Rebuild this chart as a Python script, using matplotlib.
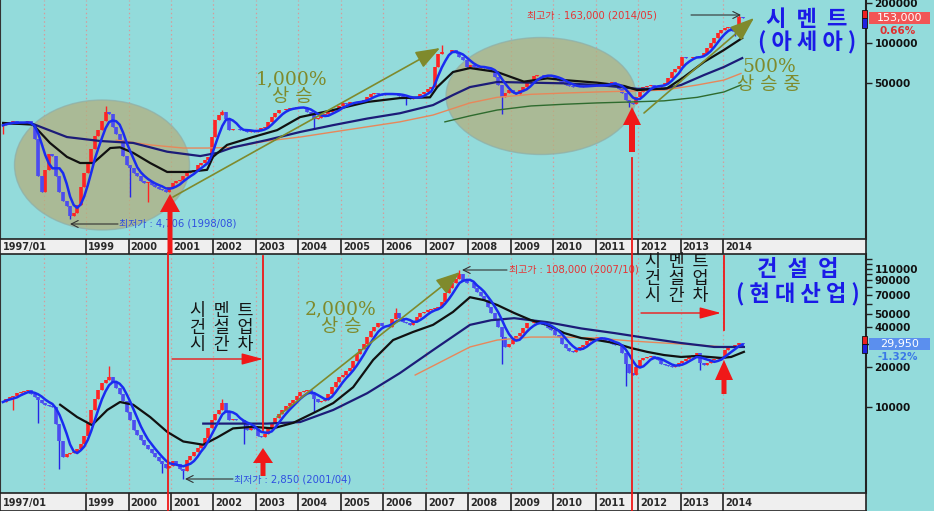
import numpy as np
import pandas as pd
import matplotlib
matplotlib.use("Agg")
import matplotlib.pyplot as plt
from matplotlib.patches import Ellipse, Polygon, Rectangle
from matplotlib.ticker import FixedLocator, FixedFormatter, NullLocator

plt.rcParams['font.family'] = ['Noto Sans CJK KR', 'DejaVu Sans']

# ---------------- data (monthly closes, thousand won, 1997/01 .. 2014/06) ----------------
cement_close_k = [
    24.0, 25.0, 25.5, 26.0, 25.0, 24.5, 25.0, 26.0, 24.0, 19.0, 10.0, 7.5,      # 1997
    11.0, 14.5, 14.0, 10.0, 7.5, 6.5, 5.9, 5.0, 5.3, 6.0, 8.3, 10.5,            # 1998
    12.5, 16.0, 20.0, 22.0, 26.0, 30.0, 29.0, 23.5, 20.5, 18.5, 14.0, 12.0,     # 1999
    11.5, 10.5, 9.9, 9.2, 8.8, 9.0, 8.6, 8.3, 8.0, 7.8, 7.6, 8.3,               # 2000
    8.8, 9.1, 9.3, 9.9, 10.5, 10.9, 11.1, 12.0, 12.5, 13.2, 13.9, 19.5,         # 2001
    26.3, 28.7, 30.3, 27.0, 22.0, 22.5, 22.5, 22.0, 22.0, 21.5, 22.0, 21.4,     # 2002
    22.0, 23.0, 23.4, 25.5, 27.7, 29.5, 31.3, 31.5, 32.0, 32.5, 32.5, 33.0,     # 2003
    33.0, 32.5, 30.5, 29.0, 27.0, 27.5, 28.5, 29.0, 30.0, 31.3, 32.0, 33.5,     # 2004
    35.4, 35.0, 35.8, 36.2, 36.0, 36.8, 37.2, 39.0, 41.5, 42.0, 41.5, 40.6,     # 2005
    41.0, 41.5, 42.0, 41.0, 40.0, 39.3, 38.5, 38.0, 38.5, 39.5, 41.0, 43.0,     # 2006
    45.0, 47.0, 66.0, 82.0, 86.0, 85.0, 86.0, 88.0, 84.0, 78.0, 74.0, 66.0,     # 2007
    68.0, 66.0, 65.0, 66.0, 65.0, 64.0, 62.0, 55.5, 48.0, 39.0, 42.0, 44.0,     # 2008
    42.0, 41.0, 44.0, 47.0, 50.0, 53.0, 56.0, 57.4, 57.0, 56.5, 57.0, 56.0,     # 2009
    54.0, 52.0, 50.0, 48.0, 47.5, 47.0, 46.5, 47.0, 47.5, 48.0, 48.0, 47.5,     # 2010
    48.0, 48.0, 48.5, 49.5, 51.0, 49.0, 45.0, 42.0, 37.0, 35.5, 35.0, 39.0,     # 2011
    43.0, 46.6, 47.5, 48.0, 47.0, 46.6, 48.5, 50.0, 55.0, 60.0, 64.0, 67.0,     # 2012
    78.0, 77.5, 77.0, 78.0, 78.5, 80.0, 84.0, 92.0, 100.0, 110.0, 119.0, 126.0, # 2013
    130.0, 133.0, 124.0, 121.0, 158.0, 153.0,                                   # 2014
]
const_close_k = [
    10.9, 11.5, 11.8, 12.2, 12.7, 13.0, 13.2, 13.4, 12.5, 11.8, 11.3, 10.8,     # 1997
    10.4, 10.2, 10.0, 7.5, 5.5, 4.2, 4.4, 4.5, 4.6, 4.8, 5.3, 6.0,              # 1998
    7.6, 9.5, 11.5, 13.5, 15.1, 16.0, 16.8, 15.5, 14.0, 12.5, 11.0, 9.2,        # 1999
    8.0, 6.7, 6.2, 5.6, 5.2, 4.8, 4.5, 4.2, 3.9, 3.7, 3.5, 3.6,                 # 2000
    3.9, 3.7, 3.4, 3.3, 4.0, 4.3, 4.6, 4.9, 5.3, 5.8, 7.0, 8.0,                 # 2001
    8.8, 9.5, 10.7, 9.2, 8.0, 8.1, 8.0, 8.0, 7.4, 6.7, 7.1, 6.8,                # 2002
    6.0, 5.9, 6.3, 7.0, 7.6, 8.3, 8.9, 9.5, 10.2, 10.8, 11.3, 12.2,             # 2003
    13.0, 13.2, 13.4, 12.5, 11.5, 10.9, 11.1, 11.3, 12.5, 14.1, 15.5, 16.8,     # 2004
    17.5, 18.5, 19.5, 22.0, 25.0, 27.5, 30.0, 33.6, 37.0, 40.0, 42.8, 41.0,     # 2005
    40.5, 40.0, 46.0, 51.0, 47.0, 43.5, 42.5, 41.5, 44.0, 47.5, 51.0, 52.0,     # 2006
    53.6, 54.5, 55.5, 56.6, 62.0, 72.0, 78.0, 85.6, 92.0, 101.0, 88.0, 86.0,    # 2007
    85.6, 78.0, 73.0, 68.0, 63.7, 57.0, 51.0, 45.0, 40.0, 33.6, 28.3, 30.0,     # 2008
    31.9, 34.0, 36.0, 39.0, 42.8, 43.2, 43.5, 43.0, 42.0, 41.5, 39.5, 38.0,     # 2009
    35.0, 33.6, 30.0, 27.8, 26.5, 26.0, 27.0, 28.3, 29.5, 31.5, 33.0, 33.3,     # 2010
    33.6, 32.5, 31.5, 30.8, 30.0, 29.5, 29.3, 25.5, 21.0, 18.0, 17.4, 20.0,     # 2011
    22.6, 23.2, 23.8, 24.0, 23.4, 22.5, 21.0, 20.7, 20.3, 20.0, 20.5, 21.4,     # 2012
    22.0, 23.0, 23.8, 24.5, 25.5, 21.5, 20.7, 21.5, 22.6, 23.0, 23.2, 23.4,     # 2013
    27.0, 28.3, 29.0, 29.3, 30.3, 29.95,                                        # 2014
]
# notable wick extremes: (month index, value in won)
cement_wick_high = [(29, 33600), (62, 31500), (124, 96000), (208, 163000)]
cement_wick_low = [(0, 20700), (19, 4706), (36, 6900), (41, 6400), (88, 22500), (114, 34000),
                   (141, 29000), (177, 33000), (207, 112000)]
const_wick_high = [(30, 20500), (62, 11500), (111, 56000), (129, 108000)]
const_wick_low = [(3, 9500), (10, 7600), (16, 3400), (45, 3200), (51, 2850), (68, 5300), (88, 9100),
                  (141, 21000), (176, 14500), (197, 19000)]

# moving-average lines (year, thousand won)
c_black_x = [1997.05, 1997.75, 1998.15, 1998.55, 1998.86, 1999.17, 1999.57, 1999.80, 2000.11, 2000.51,
             2000.91, 2001.38, 2001.85, 2001.99, 2002.32, 2002.93, 2003.50, 2004.04, 2004.82, 2005.62,
             2006.39, 2007.10, 2007.27, 2007.64, 2008.04, 2008.68, 2009.31, 2009.86, 2010.26, 2011.03,
             2011.67, 2011.98, 2012.68, 2013.08, 2013.55, 2014.02, 2014.45]
c_black_y = [25.0, 24.3, 17.7, 13.9, 12.5, 12.5, 16.2, 16.4, 14.9, 12.5,
             10.7, 10.7, 11.1, 13.9, 17.1, 19.6, 22.1, 27.7, 31.3, 36.0,
             38.5, 39.0, 46.6, 60.5, 64.8, 60.5, 51.2, 54.2, 52.6, 50.3,
             47.5, 44.2, 45.6, 55.5, 72.0, 88.6, 109.0]
c_navy_x = [1997.05, 1997.75, 1998.55, 1999.33, 2000.11, 2000.91, 2001.69, 2002.09, 2002.46, 2003.26,
            2004.04, 2004.82, 2005.62, 2006.39, 2007.17, 2007.64, 2008.04, 2008.68, 2009.48, 2010.26,
            2011.03, 2011.67, 2011.98, 2012.61, 2013.01, 2013.55, 2014.02, 2014.45]
c_navy_y = [25.0, 24.6, 19.6, 18.3, 17.7, 15.2, 14.1, 14.9, 16.4, 18.6,
            21.4, 24.1, 27.0, 29.6, 34.1, 40.6, 46.6, 50.9, 50.3, 49.7,
            48.3, 46.3, 45.2, 45.2, 48.3, 57.4, 66.0, 77.0]
c_orange_x = [1999.71, 2000.51, 2001.29, 2001.85, 2002.46, 2003.26, 2004.04, 2004.82, 2005.62, 2006.39,
              2007.17, 2008.04, 2008.68, 2009.48, 2010.26, 2011.03, 2011.83, 2012.61, 2013.39, 2014.02, 2014.42]
c_orange_y = [18.6, 17.1, 16.2, 16.2, 16.4, 18.3, 19.6, 21.4, 23.4, 25.5,
              28.7, 35.4, 39.0, 41.1, 42.0, 42.8, 43.5, 44.2, 48.3, 52.6, 59.0]
c_green_x = [2007.45, 2008.04, 2008.68, 2009.48, 2010.26, 2011.03, 2011.83, 2012.61, 2013.39, 2014.02, 2014.42]
c_green_y = [25.5, 28.3, 31.3, 33.6, 34.6, 35.4, 36.0, 36.7, 39.0, 42.8, 48.3]

k_black_x = [1998.39, 1998.79, 1999.14, 1999.50, 1999.80, 2000.11, 2000.51, 2000.91, 2001.29, 2001.76,
             2002.09, 2002.46, 2002.93, 2003.40, 2003.88, 2004.35, 2004.82, 2005.29, 2005.76, 2006.23,
             2006.70, 2007.17, 2007.64, 2008.04, 2008.37, 2008.68, 2009.08, 2009.48, 2009.86, 2010.26,
             2010.66, 2011.03, 2011.44, 2011.83, 2012.21, 2012.61, 2013.01, 2013.39, 2013.95, 2014.19, 2014.49]
k_black_y = [10.4, 8.4, 7.3, 9.5, 10.9, 10.4, 8.4, 6.5, 5.5, 5.2,
             5.9, 6.9, 7.1, 6.9, 7.6, 9.0, 10.7, 14.1, 22.6, 31.9,
             36.7, 41.5, 51.9, 67.0, 63.7, 58.6, 51.0, 45.0, 41.5, 36.0,
             33.0, 31.9, 30.3, 27.8, 26.0, 24.6, 23.8, 24.2, 23.4, 23.8, 26.0]
k_navy_x = [2001.76, 2003.26, 2004.04, 2004.82, 2005.62, 2006.39, 2007.17, 2008.04, 2008.54, 2009.08,
            2009.86, 2010.66, 2011.44, 2012.21, 2013.01, 2013.79, 2014.49]
k_navy_y = [7.5, 7.5, 7.7, 9.5, 12.7, 18.0, 26.8, 41.5, 45.0, 46.6,
            43.5, 39.0, 36.0, 33.0, 30.3, 28.3, 28.3]
k_orange_x = [2006.75, 2008.04, 2008.68, 2009.48, 2010.26, 2011.03, 2011.83, 2012.61, 2013.39, 2014.02, 2014.49]
k_orange_y = [17.4, 28.3, 31.9, 33.6, 33.6, 33.0, 31.4, 30.3, 29.3, 28.3, 28.3]

date_labels = ['1997/01', '1999', '2000', '2001', '2002', '2003', '2004', '2005', '2006',
               '2007', '2008', '2009', '2010', '2011', '2012', '2013', '2014']
date_years = [1997, 1999, 2000, 2001, 2002, 2003, 2004, 2005, 2006,
              2007, 2008, 2009, 2010, 2011, 2012, 2013, 2014]
grid_years = list(range(1998, 2015))
top_ticks = [50000, 100000, 200000]
top_tick_labels = ['50000', '100000', '200000']
bot_ticks = [10000, 20000, 30000, 40000, 50000, 60000, 70000, 80000, 90000, 100000, 110000, 120000, 130000]
bot_tick_labels = ['10000', '20000', '', '40000', '50000', '', '70000', '', '90000', '', '110000', '', '']

# ---------------- style ----------------
BG = '#93DBDB'
STRIP = '#EFEFEF'
RED = '#FF2424'
BLUE = '#2626E6'
MA_BLUE = '#1A2CF0'
OLIVE = '#7F8A2C'
ARROW_RED = '#F01818'

W, H = 934, 511
fig = plt.figure(figsize=(W / 100, H / 100), dpi=100, facecolor=BG)


def px_axes(x0, y0, x1, y1):
    return fig.add_axes([x0 / W, 1 - y1 / H, (x1 - x0) / W, (y1 - y0) / H])


XL = (1997 - 1.1 / 42.47, 1997 + (866 - 1.1) / 42.47)

top = px_axes(0, 0, 866, 239)
topd = px_axes(0, 239, 866, 254)
bot = px_axes(0, 254, 866, 493)
botd = px_axes(0, 493, 866, 511)
topd.set_zorder(12)
ov = px_axes(0, 0, W, H)
ov.set_xlim(0, W)
ov.set_ylim(H, 0)
ov.axis('off')
ov.set_zorder(20)
ov.patch.set_alpha(0)


def draw_candles(ax, close_k, wick_hi, wick_lo):
    c = np.array(close_k) * 1000.0
    n = len(c)
    x = 1997 + (np.arange(n) + 0.5) / 12.0
    o = np.r_[c[0], c[:-1]]
    hi = np.maximum(o, c)
    lo = np.minimum(o, c)
    whi = hi.copy()
    wlo = lo.copy()
    for i, v in wick_hi:
        whi[i] = max(whi[i], v)
    for i, v in wick_lo:
        wlo[i] = min(wlo[i], v)
    up = c >= o
    dn = ~up
    ax.vlines(x[up], wlo[up], whi[up], color=RED, lw=1.0, zorder=3)
    ax.vlines(x[up], lo[up], hi[up], color=RED, lw=2.6, zorder=3)
    ax.vlines(x[dn], wlo[dn], whi[dn], color=BLUE, lw=1.0, zorder=3)
    ax.vlines(x[dn], lo[dn], hi[dn], color='#4C4CF0', lw=2.6, zorder=3)
    ma = pd.Series(c).rolling(5, min_periods=1).mean()
    ax.plot(x, ma, color=MA_BLUE, lw=1.8, zorder=6)


def style_main(ax, ylim, ticks, labels):
    ax.set_facecolor(BG)
    ax.set_yscale('log')
    ax.set_xlim(*XL)
    ax.set_ylim(*ylim)
    ax.set_xticks([])
    ax.yaxis.set_major_locator(FixedLocator(ticks))
    ax.yaxis.set_major_formatter(FixedFormatter(labels))
    ax.yaxis.set_minor_locator(NullLocator())
    ax.yaxis.tick_right()
    ax.tick_params(axis='y', direction='out', length=4, width=1, color='#222222', pad=2,
                   labelsize=7.5, labelcolor='#111111')
    for lab in ax.get_yticklabels():
        lab.set_fontfamily('DejaVu Sans')
        lab.set_fontweight('bold')
    for s in ['top', 'bottom']:
        ax.spines[s].set_visible(False)
    ax.spines['left'].set_color('#333333')
    ax.spines['right'].set_color('#222222')
    ax.spines['right'].set_linewidth(1.5)
    ax.vlines(grid_years, ylim[0], ylim[1], colors='#D49C9C', linestyles=(0, (1.2, 2.2)), lw=0.9, zorder=0.5)


def style_strip(ax):
    ax.set_facecolor(STRIP)
    ax.set_xlim(*XL)
    ax.set_ylim(0, 1)
    ax.set_xticks([])
    ax.set_yticks([])
    for s in ax.spines.values():
        s.set_color('#222222')
        s.set_linewidth(1.2)
    ax.vlines(date_years[1:], 0, 1, colors='#222222', lw=1.2)
    for yr, lab in zip(date_years, date_labels):
        ax.text(yr + 0.05, 0.45, lab, fontsize=7, fontweight='bold', color='#2A2A2A',
                family='DejaVu Sans', va='center', ha='left')


# ---------------- top: cement (Asia) ----------------
top_ylim = (3349, 210700)
for (cx, cy, w, h) in [(102, 165, 175, 130), (541, 96, 190, 117)]:
    e = Ellipse((cx, cy), w, h, facecolor='#B4AE7C', edgecolor='#8FAFA8', lw=1.0, alpha=0.72,
                transform=ov.transData, zorder=1)
    top.add_patch(e)
draw_candles(top, cement_close_k, cement_wick_high, cement_wick_low)
top.plot(c_green_x, np.array(c_green_y) * 1000, color='#2E6B2E', lw=1.0, zorder=4)
top.plot(c_orange_x, np.array(c_orange_y) * 1000, color='#E8875A', lw=1.0, zorder=4)
top.plot(c_navy_x, np.array(c_navy_y) * 1000, color='#1C1C78', lw=1.6, zorder=5)
top.plot(c_black_x, np.array(c_black_y) * 1000, color='#111111', lw=1.6, zorder=5)
style_main(top, top_ylim, top_ticks, top_tick_labels)
style_strip(topd)

# ---------------- bottom: construction (Hyundai Development) ----------------
bot_ylim = (2253, 141700)
draw_candles(bot, const_close_k, const_wick_high, const_wick_low)
bot.plot(k_orange_x, np.array(k_orange_y) * 1000, color='#E8875A', lw=1.0, zorder=4)
bot.plot(k_navy_x, np.array(k_navy_y) * 1000, color='#1C1C78', lw=1.6, zorder=5)
bot.plot(k_black_x, np.array(k_black_y) * 1000, color='#111111', lw=1.6, zorder=5)
style_main(bot, bot_ylim, bot_ticks, bot_tick_labels)
style_strip(botd)

# ---------------- annotations (pixel coordinates on overlay) ----------------
def block_arrow(x, tip, base, end, head_w, shaft_w):
    pts = [(x, tip), (x - head_w / 2, base), (x - shaft_w / 2, base), (x - shaft_w / 2, end),
           (x + shaft_w / 2, end), (x + shaft_w / 2, base), (x + head_w / 2, base)]
    ov.add_patch(Polygon(pts, closed=True, facecolor=ARROW_RED, edgecolor='none', zorder=8))


for (x, y0, y1) in [(168, 253, 511), (263, 256, 430), (632, 158, 511), (724, 256, 330)]:
    ov.plot([x, x], [y0, y1], color=ARROW_RED, lw=1.3, zorder=7)

block_arrow(170, 194, 212, 254, 20, 5)
block_arrow(632, 107, 125, 152, 18, 6)
block_arrow(263, 448, 463, 476, 20, 5)
block_arrow(724, 360, 380, 394, 18, 5)

for (x0, x1, y) in [(172, 263, 359), (641, 721, 313)]:
    ov.annotate('', xy=(x1, y), xytext=(x0, y),
                arrowprops=dict(arrowstyle='-|>,head_length=1.3,head_width=0.35', color=ARROW_RED,
                                lw=1.0, shrinkA=0, shrinkB=0), zorder=8)

for (p0, p1) in [((173, 197), (440, 48)), ((644, 113), (754, 18)), ((277, 417), (460, 272))]:
    ov.annotate('', xy=p1, xytext=p0,
                arrowprops=dict(arrowstyle='-|>,head_length=1.5,head_width=0.55', color=OLIVE,
                                lw=1.2, shrinkA=0, shrinkB=0), zorder=7)

for (p0, p1) in [((691, 15), (741, 15)), ((118, 224), (70, 224)), ((507, 270), (462, 270)), ((233, 479), (185, 479))]:
    ov.annotate('', xy=p1, xytext=p0,
                arrowprops=dict(arrowstyle='->,head_length=0.5,head_width=0.25', color='#333333',
                                lw=0.8, shrinkA=0, shrinkB=0), zorder=6)

small = ['DejaVu Sans', 'Noto Sans CJK KR']
ov.text(527, 15, '최고가 : 163,000 (2014/05)', fontsize=7.2, color='#E53535', family=small, va='center', ha='left', zorder=6)
ov.text(119, 223, '최저가 : 4,706 (1998/08)', fontsize=7.2, color='#2F4FE0', family=small, va='center', ha='left', zorder=6)
ov.text(509, 270, '최고가 : 108,000 (2007/10)', fontsize=7.2, color='#E53535', family=small, va='center', ha='left', zorder=6)
ov.text(234, 479, '최저가 : 2,850 (2001/04)', fontsize=7.2, color='#2F4FE0', family=small, va='center', ha='left', zorder=6)

serif = ['DejaVu Serif', 'Noto Sans CJK KR']
for (cx, cy, t) in [(292, 88, '1,000%\n상 승'), (769, 76, '500%\n상 승 중'), (341, 318, '2,000%\n상 승')]:
    ov.text(cx, cy, t, fontsize=13.5, color=OLIVE, family=serif, ha='center', va='center',
            multialignment='center', linespacing=0.95, zorder=6)

TB = '#1A1AE8'
ov.text(807, 31, '시  멘  트\n( 아 세 아 )', fontsize=16, color=TB, fontweight='bold', ha='center',
        va='center', multialignment='center', linespacing=1.0, zorder=9)
ov.text(798, 282, '건  설  업\n( 현 대 산 업 )', fontsize=16, color=TB, fontweight='bold', ha='center',
        va='center', multialignment='center', linespacing=1.05, zorder=9)

for (cx, cy) in [(222, 328), (677, 279)]:
    ov.text(cx, cy, '시  멘  트\n건  설  업\n시  간  차', fontsize=12.5, color='#151515', ha='center',
            va='center', multialignment='center', linespacing=0.9, zorder=6)

# last-price boxes and spine markers
ov.add_patch(Rectangle((869, 12), 61, 12, facecolor='#F25555', edgecolor='none', zorder=9))
ov.text(899.5, 18, '153,000', fontsize=8, color='white', family='DejaVu Sans', ha='center', va='center', zorder=10)
ov.text(898, 31, '0.66%', fontsize=7.5, color='#E03030', family='DejaVu Sans', fontweight='bold', ha='center', va='center', zorder=10)
ov.add_patch(Rectangle((869, 338), 61, 12, facecolor='#5B8FEE', edgecolor='none', zorder=9))
ov.text(899.5, 344, '29,950', fontsize=8, color='white', family='DejaVu Sans', ha='center', va='center', zorder=10)
ov.text(898, 357, '-1.32%', fontsize=7.5, color='#3B78E7', family='DejaVu Sans', fontweight='bold', ha='center', va='center', zorder=10)
for (y0, h, col) in [(10, 8, '#EE2020'), (18, 10, '#2020E0'), (336, 8, '#EE2020'), (344, 9, '#2020E0')]:
    ov.add_patch(Rectangle((862, y0), 5, h, facecolor=col, edgecolor='#111111', lw=0.6, zorder=9))

fig.savefig('out.png', dpi=100, facecolor=BG)
